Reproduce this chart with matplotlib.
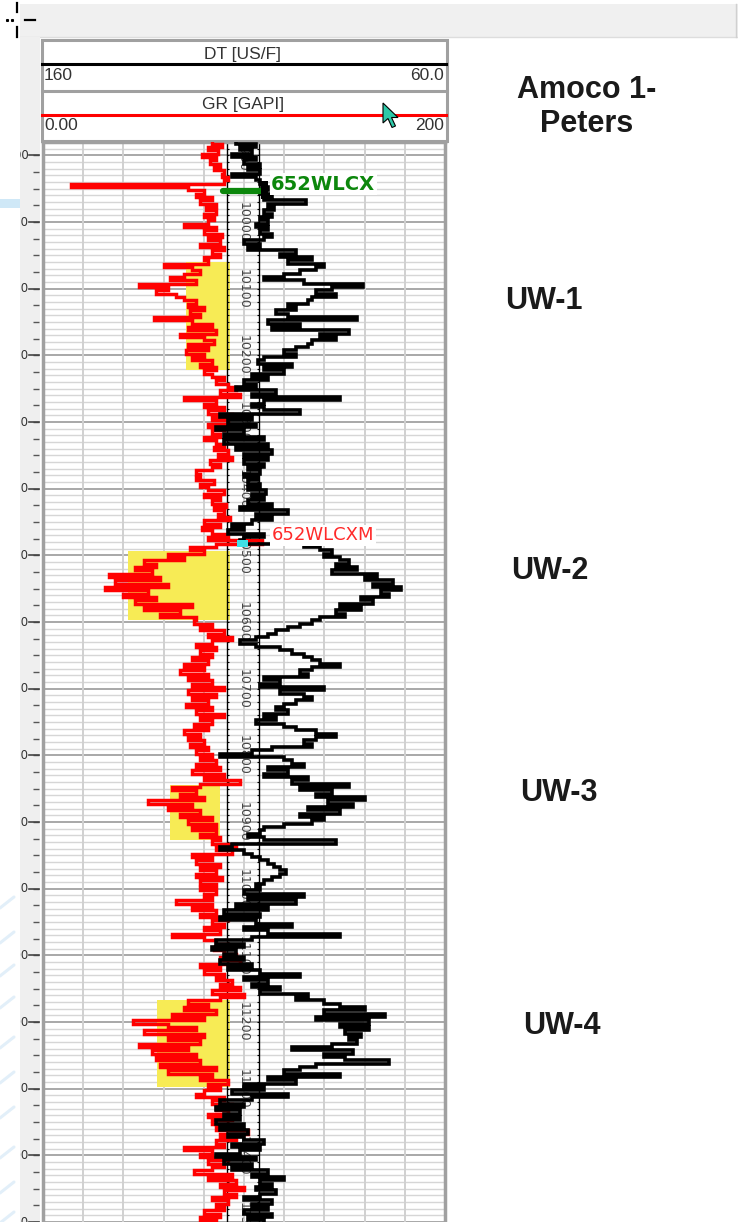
import numpy as np
import matplotlib
matplotlib.use("Agg")
import matplotlib.pyplot as plt
from matplotlib.patches import Rectangle, Polygon

# ---------------- data ----------------
DEPTH_TOP, DEPTH_BASE, STEP = 9880, 11500, 5
depth = np.arange(DEPTH_TOP, DEPTH_BASE + 1, STEP)

GR = [
    84, 89, 82, 87, 79, 86, 83, 88, 85, 90,      # 9880
    89, 92, 90, 14, 72, 80, 76, 84, 78, 86,      # 9930
    81, 86, 80, 85, 82, 70, 86, 80, 89, 82,      # 9980
    88, 78, 90, 84, 88, 80, 82, 60, 74, 78,      # 10030
    70, 63, 76, 48, 62, 56, 66, 70, 76, 72,      # 10080
    80, 73, 78, 55, 74, 84, 72, 86, 68, 80,      # 10130
    85, 72, 82, 71, 80, 74, 84, 78, 86, 80,      # 10180
    84, 90, 86, 92, 96, 88, 98, 70, 86, 80,      # 10230
    90, 82, 94, 84, 92, 82, 90, 84, 88, 80,      # 10280
    86, 90, 85, 92, 87, 94, 83, 88, 84, 76,      # 10330
    78, 76, 85, 78, 82, 90, 80, 88, 84, 91,      # 10380
    85, 90, 87, 93, 80, 88, 79, 84, 92, 82,      # 10430
    109, 86, 73, 80, 62, 70, 50, 56, 46, 54,     # 10480
    33, 58, 36, 62, 31, 52, 40, 56, 46, 74,      # 10530
    50, 68, 58, 76, 75, 84, 78, 90, 82, 94,      # 10580
    84, 76, 86, 78, 84, 74, 82, 70, 80, 68,      # 10630
    82, 72, 84, 74, 90, 72, 86, 74, 82, 71,      # 10680
    84, 76, 90, 78, 84, 75, 82, 70, 78, 72,      # 10730
    80, 73, 82, 76, 84, 78, 86, 76, 88, 74,      # 10780
    90, 80, 98, 78, 64, 76, 68, 80, 52, 74,      # 10830
    62, 78, 68, 84, 72, 86, 74, 86, 78, 88,      # 10880
    84, 96, 86, 94, 74, 84, 76, 88, 78, 86,      # 10930
    76, 89, 78, 86, 78, 86, 80, 84, 66, 84,      # 10980
    74, 86, 78, 92, 84, 90, 80, 88, 64, 80,      # 11030
    86, 92, 85, 90, 96, 88, 98, 78, 88, 80,      # 11080
    90, 86, 94, 88, 98, 84, 100, 88, 72, 82,     # 11130
    70, 86, 64, 80, 45, 62, 76, 50, 80, 62,      # 11180
    78, 48, 72, 54, 76, 56, 78, 58, 86, 62,      # 11230
    84, 78, 92, 82, 88, 80, 76, 90, 84, 94,      # 11280
    86, 92, 82, 94, 84, 92, 86, 102, 88, 96,     # 11330
    86, 90, 70, 84, 78, 92, 82, 90, 84, 75,      # 11380
    94, 82, 96, 88, 100, 90, 96, 84, 92, 86,     # 11430
    90, 80, 88, 78, 86,                          # 11480
]

DT = [
    112, 107, 111, 108, 113, 107, 110, 106, 109, 106,        # 9880
    113, 107, 106, 105.5, 104, 106, 103, 105, 94.5, 104,     # 9930
    102.5, 105, 103, 106, 104, 107, 104, 106, 103, 105,      # 9980
    110, 106, 109, 97, 101, 93, 99, 90, 92, 96,              # 10030
    100, 105, 95, 80.5, 88, 92, 87, 93, 94, 99,              # 10080
    97, 102, 99, 82, 104, 96, 103, 84, 91, 87,               # 10130
    93, 94, 97, 100, 97, 105, 106.5, 98, 105, 100,           # 10180
    108, 104, 110, 107, 112, 102, 108, 86, 105, 108,         # 10230
    105, 96, 116, 108, 114, 107, 117, 110, 115, 105,         # 10280
    115, 104, 112, 103, 110, 104, 110, 105, 109, 106,        # 10330
    110, 106.5, 109, 106, 109, 104.5, 108, 105, 109, 103,    # 10380
    111, 99, 107, 103, 108, 113, 110, 114, 105, 110,         # 10430
    111, 95, 91, 88, 90, 86, 84, 87, 82, 88,                 # 10480
    77, 80, 73, 78, 71, 76, 74, 81, 78, 86,                  # 10530
    81, 87, 85, 91, 93, 96, 99, 102, 104, 107,               # 10580
    111, 107, 101, 98, 95, 93, 91, 86, 93, 96,               # 10630
    94, 105, 101, 106, 90, 101, 95, 93, 97, 100,             # 10680
    102, 99, 105, 102, 107, 100, 97, 92, 87, 92,             # 10730
    95, 93, 103, 108, 116, 100, 98, 95, 104, 99,             # 10780
    105, 94, 98, 84, 96, 88, 92, 80, 89, 83,                 # 10830
    94, 86, 96, 90, 93, 100, 105, 106, 109, 105,             # 10880
    87, 113, 116, 110, 108, 106, 104, 102.5, 101, 99.5,      # 10930
    101, 103, 105, 107, 106, 110, 95, 109, 97, 112,          # 10980
    104, 115, 106, 116, 107, 98, 110, 104, 86, 108,          # 11030
    117, 110, 118, 112, 115, 110, 116, 108, 114, 106,        # 11080
    96, 110, 104, 108, 101, 106, 94, 97, 90, 86,             # 11130
    80, 90, 75, 92, 79, 86, 79, 85, 81, 84,                  # 11180
    82, 88, 98, 83, 90, 85, 74, 92, 96, 100,                 # 11230
    86, 104, 97, 110, 105, 113, 99, 108, 116, 110,           # 11280
    117, 111, 115, 111, 117, 110, 116, 109, 114, 110,        # 11330
    105, 113, 106, 111, 117, 107, 115, 108, 113, 104,        # 11380
    108, 100, 106, 103, 107, 102, 106, 110, 103, 108,        # 11430
    104, 110, 103, 109, 105,                                 # 11480
]

zone_names = ["UW-1", "UW-2", "UW-3", "UW-4"]
zone_top = [10060, 10493, 10845, 11167]
zone_base = [10222, 10597, 10927, 11297]
zone_gr_left = [71.1, 42.4, 63.2, 56.6]
zone_gr_right = [93.0, 93.0, 88.1, 93.0]

marker_names = ["652WLCX", "652WLCXM"]
marker_depth = [9953, 10482]

depth_labels = list(range(9900, 11501, 100))
well_title = ["Amoco 1-", "Peters"]
dt_scale = (160, 60.0)
gr_scale = (0.00, 200)

# ---------------- layout ----------------
W, H = 738, 1222
TRACK_TOP = 142
PX_PER_FT = 1 / 1.5

def ypx(d):
    return TRACK_TOP + (d - DEPTH_TOP) * PX_PER_FT

def depth_steps(values, depths, step):
    """Vertices of a log curve drawn as constant blocks over each sample interval."""
    v = np.repeat(np.asarray(values, float), 2)
    d = np.column_stack([np.asarray(depths) - step / 2, np.asarray(depths) + step / 2]).ravel()
    return v, d

fig = plt.figure(figsize=(W / 100, H / 100), dpi=100)
fig.patch.set_facecolor("white")

bg = fig.add_axes([0, 0, 1, 1], zorder=0)
bg.set_xlim(0, W)
bg.set_ylim(H, 0)
bg.axis("off")

# top toolbar strip
bg.add_patch(Rectangle((20, 4), W - 20, 33, fc="#f0f0f0", ec="none"))
bg.plot([20, W], [37, 37], color="#dddddd", lw=1)
bg.plot([735.5, 735.5], [4, 37], color="#d0d0d0", lw=1)
# crosshair cursor bits
bg.plot([17, 17], [3, 12], color="black", lw=1.6)
bg.plot([17, 17], [27, 37], color="black", lw=1.6)
bg.plot([25, 35], [19.5, 19.5], color="black", lw=1.6)
bg.plot([7, 12], [19.5, 19.5], ls="none", marker="s", ms=1.2, color="black")

# bluish decoration at far left
bg.add_patch(Rectangle((0, 199), 20, 9, fc="#cfe8f7", ec="none"))
for y0 in [900, 935, 968, 1000, 1040, 1075, 1110, 1150, 1185, 1215]:
    bg.plot([0, 14], [y0 + 8, y0 - 3], color="#e2eff9", lw=2.2, solid_capstyle="round")

# header box
bg.add_patch(Rectangle((41.5, 39.5), 405, 101.5, fc="white", ec="#a0a0a0", lw=2.2))
bg.plot([41.5, 446.5], [90.5, 90.5], color="#a0a0a0", lw=2.2)
bg.plot([42, 446], [64, 64], color="black", lw=2.2)
bg.plot([42, 446], [115, 115], color="#ff0000", lw=2.2)
hdr = dict(family="Liberation Sans", fontsize=12.5, color="#333333", va="center")
bg.text(243, 55, "DT [US/F]", ha="center", **hdr)
bg.text(44, 76, f"{dt_scale[0]}", ha="left", **hdr)
bg.text(444, 76, f"{dt_scale[1]:.1f}", ha="right", **hdr)
bg.text(243, 105, "GR [GAPI]", ha="center", **hdr)
bg.text(44, 126, f"{gr_scale[0]:.2f}", ha="left", **hdr)
bg.text(444, 126, f"{gr_scale[1]}", ha="right", **hdr)
# mouse pointer
bg.add_patch(Polygon([(383, 103), (383, 123), (388, 118.5), (392, 127.5),
                      (395.5, 126), (391.5, 117.5), (398, 117.5)],
                     closed=True, fc="#2cc9a8", ec="black", lw=0.8, zorder=5))

# right-hand labels
lab = dict(family="Liberation Sans", fontsize=22, weight="bold", color="#1a1a1a",
           ha="center", va="center")
bg.text(587, 90, well_title[0], **lab)
bg.text(587, 124, well_title[1], **lab)
zone_label_xy = [(544, 301), (550, 571), (559, 793), (562, 1026)]
for name, (lx, ly) in zip(zone_names, zone_label_xy):
    bg.text(lx, ly, name, **lab)

# left depth ruler strip (labels partly hidden, as in the screen capture)
lax = fig.add_axes([20 / W, 0, 20 / W, (H - 37) / H], zorder=1)
lax.set_xlim(20, 40)
lax.set_ylim(H, 37)
lax.set_facecolor("#efefef")
lax.set_xticks([]); lax.set_yticks([])
for s in lax.spines.values():
    s.set_visible(False)
ruler_ticks = np.arange(DEPTH_TOP + 20, DEPTH_BASE + 1, 25)
lax.hlines([ypx(d) for d in ruler_ticks], 33, 39, color="#555555", lw=1.0)
for d in depth_labels:
    lax.text(29, ypx(d), str(d), ha="right", va="center", fontsize=8.5,
             color="#333333", clip_on=True)
    lax.plot([29, 39], [ypx(d), ypx(d)], color="#444444", lw=1.2)

# ---------------- track ----------------
ax = fig.add_axes([43 / W, 0, 402 / W, (H - TRACK_TOP) / H], zorder=2)
ax.set_xlim(0, 200)
ax.set_ylim(DEPTH_BASE, DEPTH_TOP)
ax.set_facecolor("white")
ax.set_xticks([]); ax.set_yticks([])
for k in ["left", "right", "top"]:
    ax.spines[k].set_color("#a0a0a0")
    ax.spines[k].set_linewidth(2.5)
ax.spines["bottom"].set_visible(False)

# grid
minor = [d for d in range(DEPTH_TOP, DEPTH_BASE + 1, 10) if d % 100 != 0]
major = [d for d in range(DEPTH_TOP, DEPTH_BASE + 1, 10) if d % 100 == 0]
ax.hlines(minor, 0, 200, color="#d6d6d6", lw=1.0, zorder=0.5)
ax.hlines(major, 0, 200, color="#a8a8a8", lw=1.4, zorder=0.6)
for v in range(20, 200, 20):
    ax.axvline(v, color="#d0d0d0", lw=1.4, zorder=0.7)

# yellow zones
for t, b, l, r in zip(zone_top, zone_base, zone_gr_left, zone_gr_right):
    ax.add_patch(Rectangle((l, t), r - l, b - t, fc="#f7eb55", ec="none", zorder=0.9))

# depth column
COL_L, COL_R = 91.5, 107.5
ax.axvline(COL_L, color="black", lw=1.0, zorder=1.5)
ax.axvline(COL_R, color="black", lw=1.0, zorder=1.5)
tick_d = list(range(DEPTH_TOP, DEPTH_BASE + 1, 10))
ax.hlines(tick_d, COL_L, COL_L + 1.2, color="black", lw=0.8, zorder=1.5)
ax.hlines(tick_d, COL_R - 1.2, COL_R, color="black", lw=0.8, zorder=1.5)
for d in depth_labels:
    ax.text((COL_L + COL_R) / 2, d, str(d), rotation=-90, ha="center", va="center",
            fontsize=9, color="#444444", zorder=1.6, clip_on=True)

# GR curve
gx, gy = depth_steps(GR, depth, STEP)
ax.plot(gx, gy, color="#ff0000", lw=2.5, zorder=3, solid_joinstyle="miter")

# DT curve on its own (reversed) scale
ax2 = ax.twiny()
dx, dy = depth_steps(DT, depth, STEP)
ax2.plot(dx, dy, color="black", lw=2.6, zorder=3, solid_joinstyle="miter")
ax2.set_xlim(dt_scale[0], dt_scale[1])
ax2.set_ylim(DEPTH_BASE, DEPTH_TOP)
ax2.set_xticks([])
for s in ax2.spines.values():
    s.set_visible(False)

# formation markers
tr = ax.transData
ax2.plot([89.8, 109.3], [marker_depth[0], marker_depth[0]], color="#0c870c", lw=4.5,
         solid_capstyle="round", transform=tr, zorder=5)
ax2.add_patch(Rectangle((108.4, marker_depth[0] - 15), 3.6, 27, fc="black", ec="none",
                        transform=tr, zorder=5))
ax2.text(113.5, marker_depth[0] - 10, marker_names[0], transform=tr, fontsize=14,
         weight="bold", color="#0c870c", ha="left", va="center", zorder=6,
         bbox=dict(fc="white", ec="none", pad=1.0))
ax2.add_patch(Rectangle((96.6, marker_depth[1] - 5), 5.4, 10.5, fc="#3fe0e6", ec="none",
                        transform=tr, zorder=5))
ax2.text(113.8, marker_depth[1] - 12, marker_names[1], transform=tr, fontsize=13,
         color="#ff2a2a", ha="left", va="center", zorder=6,
         bbox=dict(fc="white", ec="none", pad=1.0))

fig.savefig("out.png", dpi=100)
